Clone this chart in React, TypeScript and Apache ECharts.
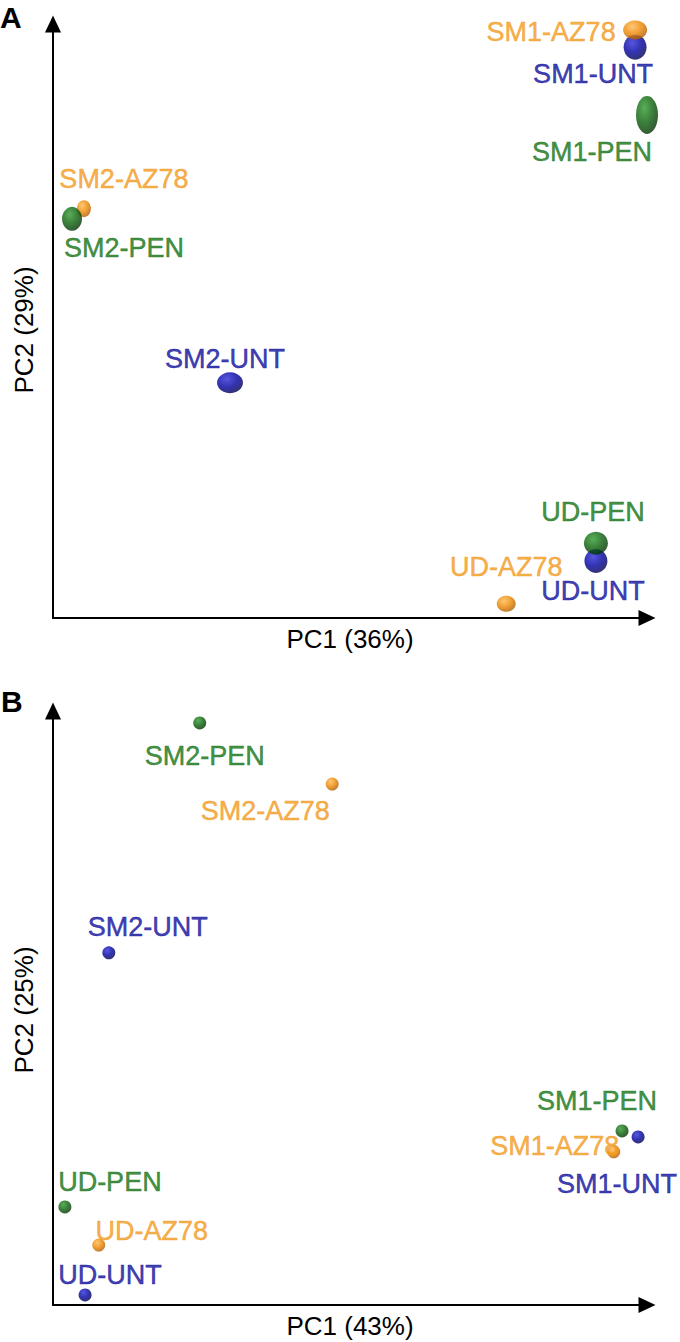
import React, { useEffect, useRef } from "react";
import * as echarts from "echarts";

// ---- data (normalised PC scores, 0..100 on each axis) ----
const samples = ["SM1", "SM2", "UD"];
const treatments = ["UNT", "AZ78", "PEN"];
const panelLetters = ["A", "B"];
const xTitles = ["PC1 (36%)", "PC1 (43%)"];
const yTitles = ["PC2 (29%)", "PC2 (25%)"];

// Panel A  [PC1, PC2] for SM1, SM2, UD
const pcaA_UNT = [[98.0, 96.1], [29.8, 39.6], [91.4, 9.6]];
const pcaA_AZ78 = [[98.0, 99.0], [5.2, 68.9], [76.3, 2.4]];
const pcaA_PEN = [[100.0, 84.7], [3.2, 67.2], [91.4, 12.6]];

// Panel B
const pcaB_UNT = [[98.5, 28.3], [9.4, 59.3], [5.4, 1.7]];
const pcaB_AZ78 = [[94.4, 25.8], [47.0, 87.7], [7.7, 10.1]];
const pcaB_PEN = [[95.8, 29.3], [24.7, 98.0], [2.0, 16.5]];

// ---- styling (marker sizes and label offsets) ----
const sizeA_UNT = [[23, 25], [26, 21], [23, 24]];
const sizeA_AZ78 = [[24, 19], [14, 17], [19, 16]];
const sizeA_PEN = [[22, 38], [20, 24], [24, 23]];
const sizeB = [13, 13];

const offA_UNT = [[-42, 27], [-5, -24], [-3, 30]];
const offA_AZ78 = [[-84, 2], [40, -30], [0, -37]];
const offA_PEN = [[-55, 37], [52, 29], [-3, -31]];
const offB_UNT = [[-21, 47], [39, -26], [25, -20]];
const offB_AZ78 = [[-59, -6], [-67, 27], [53, -14]];
const offB_PEN = [[-25, -30], [5, 33], [45, -25]];

const colors: Record<string, { label: string; light: string; mid: string; dark: string }> = {
  UNT: { label: "#0c0c9c", light: "#2c2cd8", mid: "#0000a0", dark: "#000050" },
  AZ78: { label: "#f29a1c", light: "#ffb850", mid: "#ec8600", dark: "#b05c00" },
  PEN: { label: "#137313", light: "#2e9a2e", mid: "#0a600a", dark: "#023202" },
};

const FONT = "'Liberation Sans', Arial, Helvetica, sans-serif";

function makeSeries(
  gridIndex: number,
  treatment: string,
  values: number[][],
  sizes: number[][] | null,
  offsets: number[][]
) {
  const c = colors[treatment];
  return {
    type: "scatter",
    name: treatment,
    xAxisIndex: gridIndex,
    yAxisIndex: gridIndex,
    clip: false,
    symbol: "circle",
    itemStyle: {
      color: new echarts.graphic.RadialGradient(0.38, 0.32, 0.7, [
        { offset: 0, color: c.light },
        { offset: 0.55, color: c.mid },
        { offset: 1, color: c.dark },
      ]),
    },
    label: {
      show: true,
      position: "inside",
      formatter: "{b}",
      color: c.label,
      textBorderColor: c.label,
      textBorderWidth: 0.5,
      fontSize: 27,
      fontFamily: FONT,
      align: "center",
      verticalAlign: "middle",
    },
    emphasis: { disabled: true },
    data: values.map((v, i) => ({
      name: `${samples[i]}-${treatment}`,
      value: v,
      symbolSize: sizes ? sizes[i] : sizeB,
      label: { offset: offsets[i] },
    })),
  };
}

export default function App() {
  const ref = useRef<HTMLDivElement>(null);
  useEffect(() => {
    if (!ref.current) return;
    const chart = echarts.init(ref.current, null, { renderer: "svg" });
    const axisLine = {
      show: true,
      onZero: false,
      symbol: ["none", "triangle"],
      symbolSize: [16, 17],
      lineStyle: { color: "#000", width: 2 },
    };
    const xAxis = [0, 1].map((i) => ({
      type: "value",
      gridIndex: i,
      min: 0,
      max: 100,
      axisLine,
      axisTick: { show: false },
      axisLabel: { show: false },
      splitLine: { show: false },
      name: xTitles[i],
      nameLocation: "middle",
      nameGap: 8,
      nameTextStyle: { fontSize: 26, fontFamily: FONT, color: "#000" },
    }));
    const yAxis = [0, 1].map((i) => ({
      type: "value",
      gridIndex: i,
      min: 0,
      max: 100,
      axisLine,
      axisTick: { show: false },
      axisLabel: { show: false },
      splitLine: { show: false },
      name: yTitles[i],
      nameLocation: "middle",
      nameGap: 16,
      nameTextStyle: {
        fontSize: 26,
        fontFamily: FONT,
        color: "#000",
        padding: i === 0 ? [0, 18, 0, 0] : [0, 4, 0, 0],
      },
    }));
    chart.setOption({
      animation: false,
      backgroundColor: "#fff",
      grid: [
        { left: 53, top: 24, width: 594, height: 594 },
        { left: 53, top: 711, width: 594, height: 594 },
      ],
      xAxis,
      yAxis,
      graphic: [
        {
          type: "text",
          left: 0,
          top: 2,
          style: { text: panelLetters[0], fontSize: 30, fontWeight: "bold", fontFamily: FONT, fill: "#000" },
        },
        {
          type: "text",
          left: 1,
          top: 686,
          style: { text: panelLetters[1], fontSize: 30, fontWeight: "bold", fontFamily: FONT, fill: "#000" },
        },
      ],
      series: [
        makeSeries(0, "UNT", pcaA_UNT, sizeA_UNT, offA_UNT),
        makeSeries(0, "AZ78", pcaA_AZ78, sizeA_AZ78, offA_AZ78),
        makeSeries(0, "PEN", pcaA_PEN, sizeA_PEN, offA_PEN),
        makeSeries(1, "UNT", pcaB_UNT, null, offB_UNT),
        makeSeries(1, "AZ78", pcaB_AZ78, null, offB_AZ78),
        makeSeries(1, "PEN", pcaB_PEN, null, offB_PEN),
      ],
    });
    return () => chart.dispose();
  }, []);
  return (
    <div
      ref={ref}
      style={{ position: "absolute", left: 0, top: 0, width: 680, height: 1342 }}
    />
  );
}
